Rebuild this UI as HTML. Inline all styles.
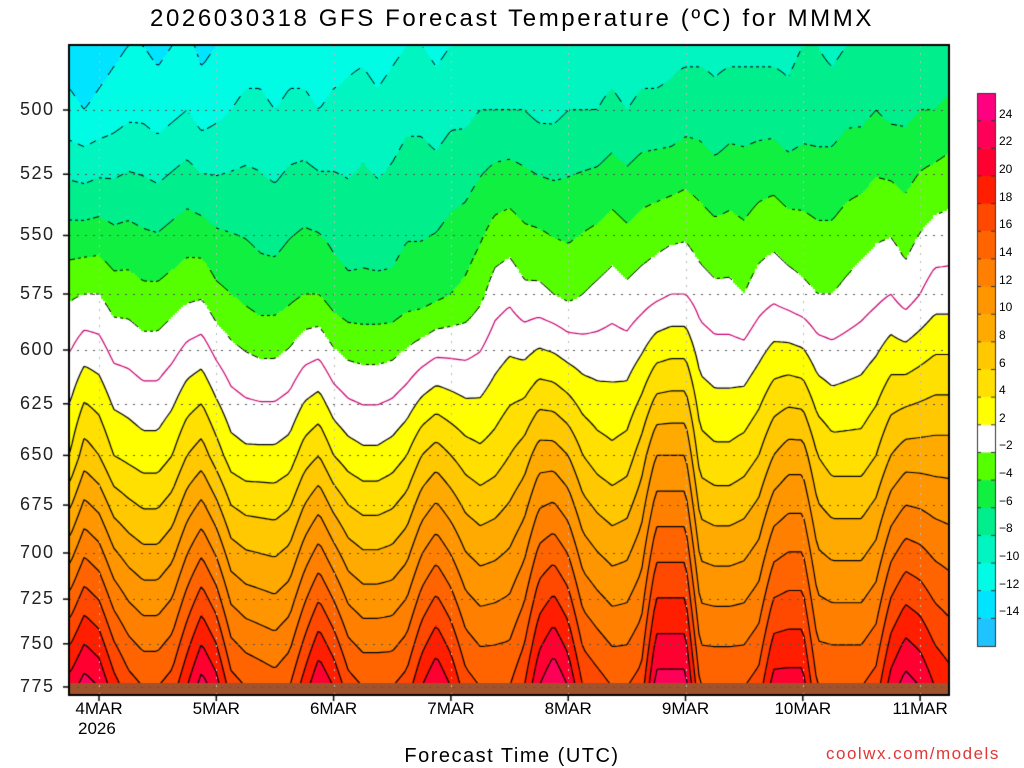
<!DOCTYPE html>
<html><head><meta charset="utf-8">
<style>
body{margin:0;background:#fff;width:1024px;height:768px;overflow:hidden;font-family:"Liberation Sans",sans-serif;}
#wrap{position:relative;width:1024px;height:768px;}
.t{position:absolute;white-space:nowrap;color:#000;}
</style></head>
<body>
<div id="wrap">
<div class="t" style="left:0;width:1024px;text-align:center;top:5px;font-size:24px;letter-spacing:2.6px;">2026030318 GFS Forecast Temperature (ºC) for MMMX</div>
<canvas id="cv" width="1024" height="768" style="position:absolute;left:0;top:0"></canvas>
<div id="labels"></div>
<div class="t" style="left:0;width:1024px;text-align:center;top:745px;font-size:20px;letter-spacing:1.5px;">Forecast Time (UTC)</div>
<div class="t" style="left:826px;top:744px;font-size:17px;color:#e03838;letter-spacing:1.5px;">coolwx.com/models</div>
</div>
<script>
// ---- data (3-hourly from 2026-03-03 18Z) ----
const levels = [476, 500, 575, 650, 775];
const t476 = [-13,-13.5,-13,-12.5,-12,-12,-12.5,-12,-11.5,-12.5,-12,-11.5,-11,-11,-11.5,-11,-11,-11.5,-11,-10.5,-10.5,-11,-10.5,-10,-10,-10.5,-10,-10,-9.5,-9.5,-9.5,-9.5,-10,-9.5,-9.5,-9.5,-9,-9,-9.5,-9,-9,-8.5,-8.5,-8.5,-8.5,-8.5,-8.5,-8.5,-8.5,-8.5,-8,-8,-8.5,-8,-8,-7.5,-8,-7.5,-7.5,-7.5,-7.5];
const t500 = [-11.5,-12,-11.5,-11,-10.5,-10.5,-11,-10.5,-10,-11,-10.5,-10,-9.5,-9.5,-10,-9.5,-9.5,-10,-9.5,-9.5,-9,-9.5,-9,-8.5,-8.5,-9,-8.5,-8.5,-8,-8,-8,-8,-8.5,-8.5,-8,-8,-8,-7.5,-8,-7.5,-7.5,-7.5,-7,-7,-7.5,-7,-7,-7,-7,-7.5,-7,-7,-7,-6.5,-6.5,-6,-6.5,-6.5,-6,-6,-5.5];
const t575 = [-2.3,-2,-2,-3,-3,-3.5,-3.5,-3,-2.5,-2.3,-3.5,-4,-4.5,-5,-5,-4.5,-4,-4,-5,-5.5,-5.5,-5.5,-5.5,-5,-5,-4.5,-4,-3.5,-2.5,-1,-0.5,-1.5,-1.5,-2,-2.5,-2,-1.5,-1,-1.5,-1,-0.5,0,0,-1,-1.5,-1.5,-2,-1,-0.5,-1,-1.5,-2,-2,-1.5,-1,-0.5,0,-1,0,1,1];
const t650 = [4,7,6,4,3.5,3,3,4,6,7,5,3,2.5,2.5,2.5,3,5,6,4,3,2.5,2.5,3,4,6,7,6,5,4.5,5,6,7,9,9,8,6,5,4.5,5,7,10,10,10,5,4.5,4.5,5,6,8,9,9,6,5,5,5,6,8,9,9,9,9];
const t775 = [21,23,22,19,17,16,16,17,20,23,21,17,16,15.5,15,16,19,22,20,17,16,16,16,17,20,22,20,17,16,16,16,18,22,24,22,18,17,16,16,17,23,23,23,16,16,16,16,17,21,21,21,16,16,16,16,17,21,23,22,20,19];
const seriesByLevel = [t476, t500, t575, t650, t775];
const pTicks = [500,525,550,575,600,625,650,675,700,725,750,775];
const dayLabels = ["4MAR","5MAR","6MAR","7MAR","8MAR","9MAR","10MAR","11MAR"];
const cbarValues = [24,22,20,18,16,14,12,10,8,6,4,2,-2,-4,-6,-8,-10,-12,-14];
const contourLevels = [-14,-12,-10,-8,-6,-4,-2,0,2,4,6,8,10,12,14,16,18,20,22,24];

// ---- axes ----
const X0=69, X1=949, Y0=45, Y1=695;
const dayPx=117.3, day0X=99;
function indexOfX(x){ return ((x-day0X)/dayPx + 0.25)/0.125; }
const LN500=Math.log(500), YPP=1316.5;
function yOfP(p){ return 110 + (Math.log(p)-LN500)*YPP; }
function lnpOfY(y){ return LN500 + (y-110)/YPP; }

const bandEdges=[-14,-12,-10,-8,-6,-4,-2,2,4,6,8,10,12,14,16,18,20,22,24];
const bandColors=["#1ec3ff","#00e4ff","#00fce4","#00f5c0","#00ee8c","#10f040","#55ff00","#ffffff","#ffff00","#ffe000","#ffc800","#ffaa00","#ff9600","#ff8000","#ff6400","#ff4800","#ff1e00","#ff0030","#ff0058","#ff0080"];
function colorOf(T){ let k=0; while(k<bandEdges.length && T>=bandEdges[k]) k++; return bandColors[k]; }

const lnL = levels.map(Math.log);
function tempAt(x,y){
  let fi=indexOfX(x); const n=t775.length-1;
  fi=Math.max(0,Math.min(n,fi));
  const i0=Math.min(n-1,Math.floor(fi)), f=fi-i0;
  const vals=seriesByLevel.map(s=>s[i0]*(1-f)+s[i0+1]*f);
  const lp=lnpOfY(y);
  let k=0; while(k<lnL.length-2 && lp>lnL[k+1]) k++;
  const g=(lp-lnL[k])/(lnL[k+1]-lnL[k]);
  return vals[k]*(1-g)+vals[k+1]*g;
}

const cv=document.getElementById('cv'); const c=cv.getContext('2d');
const S=2;
for(let x=X0;x<X1;x+=S){ for(let y=Y0;y<Y1;y+=S){
  c.fillStyle=colorOf(tempAt(x+1,y+1)); c.fillRect(x,y,S,S);
}}
// contours (marching squares)
const G=3; const nx=Math.ceil((X1-X0)/G)+1, ny=Math.ceil((Y1-Y0)/G)+1;
const grid=[]; for(let i=0;i<nx;i++){ grid.push([]); for(let j=0;j<ny;j++) grid[i].push(tempAt(X0+i*G,Y0+j*G)); }
c.save(); c.beginPath(); c.rect(X0,Y0,X1-X0,Y1-Y0); c.clip();
contourLevels.forEach(L=>{
  c.beginPath();
  for(let i=0;i<nx-1;i++) for(let j=0;j<ny-1;j++){
    const a=grid[i][j],b=grid[i+1][j],d=grid[i][j+1],e=grid[i+1][j+1];
    const pts=[]; const x=X0+i*G,y=Y0+j*G;
    if((a<L)!=(b<L)) pts.push([x+G*(L-a)/(b-a),y]);
    if((b<L)!=(e<L)) pts.push([x+G,y+G*(L-b)/(e-b)]);
    if((d<L)!=(e<L)) pts.push([x+G*(L-d)/(e-d),y+G]);
    if((a<L)!=(d<L)) pts.push([x,y+G*(L-a)/(d-a)]);
    const segs=[]; if(pts.length>=2) segs.push([pts[0],pts[1]]); if(pts.length==4) segs.push([pts[2],pts[3]]);
    segs.forEach(s=>{
      if(L<0){ const mx=(s[0][0]+s[1][0])/2, my=(s[0][1]+s[1][1])/2; if(Math.floor((mx+my)/3)%2) return; }
      c.moveTo(s[0][0],s[0][1]); c.lineTo(s[1][0],s[1][1]);
    });
  }
  c.strokeStyle = L===0 ? "#c8006e" : "#000";
  c.lineWidth = L<0 ? 1 : 1.2;
  c.stroke();
});
c.restore();
// ground
c.fillStyle="#a0522d"; c.fillRect(X0,683,X1-X0,Y1-683);
// grid lines
c.strokeStyle="#555"; c.lineWidth=1; c.setLineDash([2,6]);
pTicks.forEach(p=>{const y=Math.round(yOfP(p))+0.5; c.beginPath(); c.moveTo(X0,y); c.lineTo(X1,y); c.stroke();});
c.strokeStyle="#bbb";
dayLabels.forEach((d,k)=>{const x=Math.round(day0X+k*dayPx)+0.5; c.beginPath(); c.moveTo(x,Y0); c.lineTo(x,Y1); c.stroke();});
c.setLineDash([]);
// frame
c.strokeStyle="#000"; c.lineWidth=2; c.strokeRect(X0,Y0,X1-X0,Y1-Y0);
c.lineWidth=1.5;
pTicks.forEach(p=>{const y=yOfP(p); c.beginPath(); c.moveTo(X0-6,y); c.lineTo(X0,y); c.stroke();});
dayLabels.forEach((d,k)=>{const x=day0X+k*dayPx; c.beginPath(); c.moveTo(x,Y1); c.lineTo(x,Y1+6); c.stroke();});
// colorbar
const CB0=93, CB1=646, CBX=977, CBW=18, nb=bandColors.length, bh=(CB1-CB0)/nb;
for(let k=0;k<nb;k++){ c.fillStyle=bandColors[nb-1-k]; c.fillRect(CBX,CB0+k*bh,CBW,bh+0.5); }
c.strokeStyle="#333"; c.lineWidth=1; c.strokeRect(CBX+0.5,CB0+0.5,CBW,CB1-CB0);
for(let k=1;k<nb;k++){ c.beginPath(); c.moveTo(CBX,CB0+k*bh); c.lineTo(CBX+4,CB0+k*bh); c.moveTo(CBX+CBW-4,CB0+k*bh); c.lineTo(CBX+CBW,CB0+k*bh); c.stroke(); }

// text labels
const lab=document.getElementById('labels');
function addText(txt,x,y,size,name,extra){
  const el=document.createElement('div'); el.className='t'; el.textContent=txt;
  el.style.left=x+'px'; el.style.top=y+'px'; el.style.fontSize=size+'px';
  if(extra) el.style.cssText+=extra;
  
  
  lab.appendChild(el); return el;
}
pTicks.forEach(p=>{ addText(String(p),20,yOfP(p)-11,18,'y-tick-label','letter-spacing:1.5px;color:#222;'); });
dayLabels.forEach((d,k)=>{ const x=day0X+k*dayPx; addText(d,x-40,Y1+4,17,'x-tick-label','width:80px;text-align:center;'); });
addText("2026",78,Y1+24,17,'x-year-label');
cbarValues.forEach((v,k)=>{ const y=CB0+(k+1)*bh; addText((v<0?'−':'')+Math.abs(v),999,y-14,12,'colorbar-label'); });
</script>
</body></html>
